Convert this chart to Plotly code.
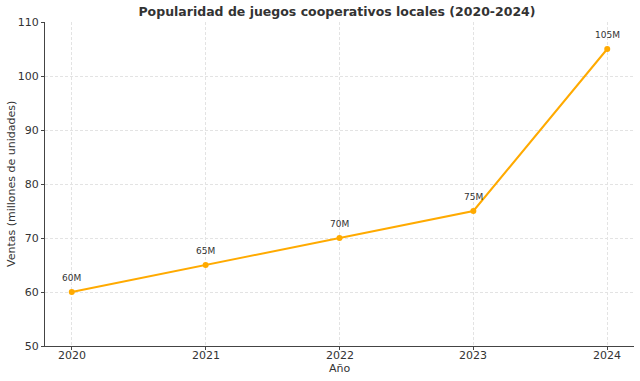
import plotly.graph_objects as go

years = [2020, 2021, 2022, 2023, 2024]
sales = [60, 65, 70, 75, 105]
labels = ["60M", "65M", "70M", "75M", "105M"]
x_tick_labels = ["2020", "2021", "2022", "2023", "2024"]
y_ticks = [50, 60, 70, 80, 90, 100, 110]

line_color = "#FFAA00"
font_family = "DejaVu Sans"
text_color = "#333333"

ML, MR, MT, MB = 45, 6, 22, 35
W, H = 640, 381
plot_w = W - ML - MR
plot_h = H - MT - MB

fig = go.Figure()
fig.add_trace(go.Scatter(
    x=years, y=sales, mode="lines+markers",
    line=dict(color=line_color, width=2),
    marker=dict(color=line_color, size=6),
    showlegend=False, hoverinfo="skip",
))

for x, y, t in zip(years, sales, labels):
    fig.add_annotation(x=x, y=y, text=t, showarrow=False, yshift=14,
                       font=dict(size=9, color=text_color, family=font_family))

# x tick labels placed close to the axis
for x, t in zip(years, x_tick_labels):
    fig.add_annotation(x=x, xref="x", yref="paper", y=0, yshift=-9, text=t,
                       showarrow=False, xanchor="center", yanchor="middle",
                       font=dict(size=11, color=text_color, family=font_family))

# axis titles
fig.add_annotation(xref="paper", yref="paper", x=-(ML - 11) / plot_w, y=0.5,
                   text="Ventas (millones de unidades)", textangle=-90,
                   showarrow=False, xanchor="center", yanchor="middle",
                   font=dict(size=11, color=text_color, family=font_family))
fig.add_annotation(xref="paper", yref="paper", x=0.5, y=-22 / plot_h,
                   text="Año", showarrow=False, xanchor="center", yanchor="middle",
                   font=dict(size=11, color=text_color, family=font_family))

fig.update_layout(
    width=W, height=H,
    margin=dict(l=ML, r=MR, t=MT, b=MB),
    paper_bgcolor="white", plot_bgcolor="white",
    font=dict(family=font_family, color=text_color),
    hovermode=False,
    title=dict(text="<b>Popularidad de juegos cooperativos locales (2020-2024)</b>",
               x=337 / W, xanchor="center", yref="container", y=1 - 11.5 / H, yanchor="middle",
               font=dict(size=12.5, color=text_color, family=font_family)),
)
fig.update_xaxes(
    range=[2019.8, 2024.2], tickvals=years, showticklabels=False,
    showline=True, linecolor="#444444", linewidth=1,
    ticks="outside", ticklen=3, tickcolor="#444444",
    showgrid=True, gridcolor="#e3e3e3", griddash="3px,2px", gridwidth=1,
    zeroline=False, automargin=False,
)
fig.update_yaxes(
    range=[50, 110], tickvals=y_ticks,
    showline=True, linecolor="#444444", linewidth=1,
    ticks="outside", ticklen=3, tickcolor="#444444",
    showgrid=True, gridcolor="#e3e3e3", griddash="3px,2px", gridwidth=1,
    tickfont=dict(size=11, color=text_color),
    zeroline=False, automargin=False,
)

fig.write_html("out.html", config={"displayModeBar": False},
               post_script="document.body.style.margin='0';")
